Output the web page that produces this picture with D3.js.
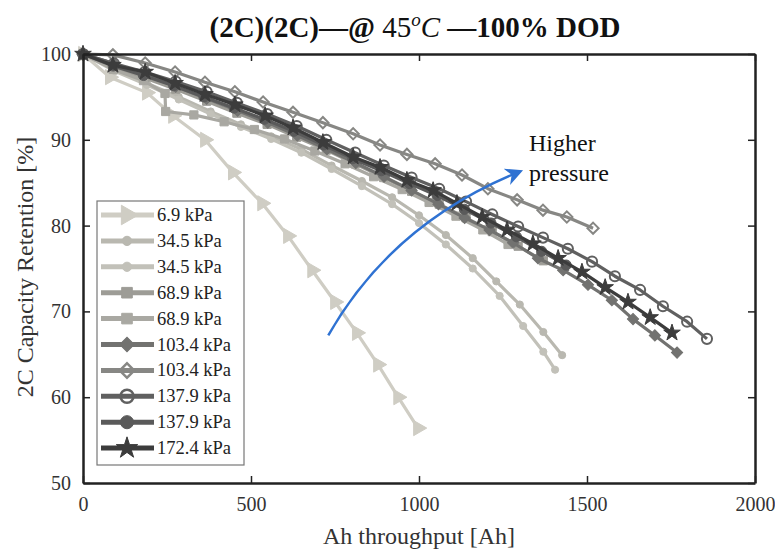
<!DOCTYPE html>
<head>
  <meta charset="utf-8">
  <script src="https://d3js.org/d3.v7.min.js"></script>
  <style>
    body { margin:0; background:#fff; }
    text { font-family: "Liberation Serif", serif; }
  </style>
</head>
<body>
<script>
var width = 775, height = 551;

// tick values
var xTicks = [0, 500, 1000, 1500, 2000];
var yTicks = [50, 60, 70, 80, 90, 100];

// [Ah throughput, retention %]
var p069 = [[0,100],[80,97.3],[190,95.5],[268,92.8],[363,90.0],[446,86.2],[533,82.6],[610,78.8],[682,74.8],[750,71.1],[815,67.5],[878,63.8],[938,60.0],[997,56.4]];
var p345a = [[0,100],[95,98.2],[190,96.6],[285,95.0],[380,93.3],[470,91.8],[560,90.4],[650,88.9],[740,87.0],[830,85.2],[920,83.3],[1000,81.2],[1080,78.9],[1160,76.2],[1230,73.5],[1300,70.8],[1370,67.6],[1426,64.9]];
var p345b = [[0,100],[95,98.0],[190,96.4],[285,94.7],[380,93.0],[470,91.5],[560,90.1],[650,88.5],[740,86.6],[830,84.6],[920,82.5],[1000,80.3],[1080,77.8],[1160,75.0],[1240,71.8],[1310,68.3],[1370,65.3],[1405,63.2]];
var p689a = [[0,100],[92,98.4],[184,97.2],[276,95.9],[368,94.5],[458,93.1],[548,91.8],[636,90.3],[724,88.8],[810,87.2],[895,85.6],[978,84.0],[1060,82.5],[1140,80.9],[1218,79.3],[1295,77.6],[1370,75.9]];
var p689b = [[0,100],[90,98.2],[180,96.9],[244,95.4],[246,93.3],[330,92.9],[420,92.1],[510,91.2],[600,90.1],[690,88.7],[780,87.2],[865,85.7],[950,84.2],[1030,82.7],[1110,81.1],[1190,79.5],[1265,77.8]];
var p1034a = [[0,100],[92,98.9],[184,97.6],[276,96.2],[368,94.8],[460,93.4],[550,92.0],[638,90.5],[726,88.9],[812,87.3],[896,85.7],[978,84.1],[1058,82.5],[1136,80.9],[1210,79.5],[1280,78.0],[1354,76.2],[1429,74.8],[1503,73.1],[1574,71.3],[1637,69.1],[1702,67.2],[1768,65.2]];
var p1034b = [[0,100],[89,99.9],[185,98.95],[274,97.9],[363,96.7],[452,95.6],[536,94.4],[625,93.2],[714,92.0],[804,90.7],[884,89.4],[964,88.3],[1048,87.2],[1128,85.9],[1205,84.3],[1292,83.0],[1369,81.8],[1440,81.0],[1518,79.7]];
var p1379a = [[0,100],[92,98.9],[184,97.9],[276,96.8],[368,95.6],[458,94.3],[548,93.0],[636,91.6],[724,90.0],[810,88.5],[895,87.0],[978,85.6],[1060,84.3],[1140,82.8],[1218,81.3],[1295,79.9],[1369,78.6],[1443,77.3],[1515,75.8],[1583,74.1],[1658,72.5],[1726,70.6],[1798,68.8],[1857,66.8]];
var p1379b = [[0,100],[90,98.6],[180,97.5],[270,96.3],[360,95.0],[450,93.7],[540,92.4],[628,91.0],[716,89.4],[803,87.8],[888,86.4],[972,84.9],[1054,83.5],[1135,81.9],[1214,80.3],[1290,78.7],[1365,77.0],[1438,75.4]];
var p1724 = [[0,100],[89,98.7],[185,97.9],[274,96.6],[363,95.3],[452,94.1],[542,92.8],[625,91.4],[714,89.7],[804,88.0],[884,86.8],[964,85.3],[1042,84.1],[1113,82.6],[1188,81.0],[1262,79.5],[1339,77.9],[1414,76.2],[1485,74.6],[1554,72.8],[1622,71.1],[1688,69.3],[1753,67.5]];

var labels = ["6.9 kPa","34.5 kPa","34.5 kPa","68.9 kPa","68.9 kPa","103.4 kPa","103.4 kPa","137.9 kPa","137.9 kPa","172.4 kPa"];

var series = [
  { d: p069,   color: "#cfcdc4", mark: "tri",     fill: true },
  { d: p345a,  color: "#b9b8b0", mark: "dot",     fill: true },
  { d: p345b,  color: "#c2c1b9", mark: "dot",     fill: true },
  { d: p689a,  color: "#9d9c96", mark: "square",  fill: true },
  { d: p689b,  color: "#a9a8a2", mark: "square",  fill: true },
  { d: p1034a, color: "#727270", mark: "diamond", fill: true },
  { d: p1034b, color: "#878784", mark: "diamond", fill: false },
  { d: p1379a, color: "#606060", mark: "circle",  fill: false },
  { d: p1379b, color: "#5a5a5a", mark: "circle",  fill: true },
  { d: p1724,  color: "#3c3c3c", mark: "star",    fill: true }
];

var svg = d3.select("body").append("svg")
  .attr("width", width)
  .attr("height", height);

var x = d3.scaleLinear().domain([0, 2000]).range([83, 755]);
var y = d3.scaleLinear().domain([50, 100]).range([483, 54]);

// marker shapes
function markPath(m, s) {
  if (m == "tri") return d3.symbol().type(d3.symbolTriangle).size(s * 1.1)();
  if (m == "dot") return d3.symbol().type(d3.symbolCircle).size(s * 0.45)();
  if (m == "square") return d3.symbol().type(d3.symbolSquare).size(s * 0.75)();
  if (m == "diamond") return d3.symbol().type(d3.symbolSquare).size(s * 0.7)();
  if (m == "circle") return d3.symbol().type(d3.symbolCircle).size(s * 0.9)();
  if (m == "star") return d3.symbol().type(d3.symbolStar).size(s * 0.95)();
}
function markRot(m) {
  if (m == "tri") return 90;
  if (m == "diamond") return 45;
  return 0;
}

var line = d3.line()
  .x(function(d){ return x(d[0]); })
  .y(function(d){ return y(d[1]); });

var plotG = svg.append("g");

series.forEach(function(s) {
  plotG.append("path")
    .datum(s.d)
    .attr("d", line)
    .attr("fill", "none")
    .attr("stroke", s.color)
    .attr("stroke-width", 3.2)
    .attr("stroke-linejoin", "round");
  plotG.selectAll(null)
    .data(s.d)
    .enter()
    .append("path")
    .attr("d", markPath(s.mark, 90))
    .attr("transform", function(d){
      return "translate(" + x(d[0]) + "," + y(d[1]) + ") rotate(" + markRot(s.mark) + ")";
    })
    .attr("fill", s.fill ? s.color : "none")
    .attr("stroke", s.color)
    .attr("stroke-width", s.fill ? 1 : 2);
});

// axes
var axG = svg.append("g").attr("class", "axes");

axG.append("g")
  .attr("transform", "translate(0,483)")
  .call(d3.axisBottom(x).tickValues(xTicks).tickFormat(d3.format("d")).tickSizeInner(-7).tickSizeOuter(0).tickPadding(14));
axG.append("g")
  .attr("transform", "translate(0,54)")
  .call(d3.axisTop(x).tickValues(xTicks).tickSizeInner(-7).tickSizeOuter(0).tickFormat(""));
axG.append("g")
  .attr("transform", "translate(83,0)")
  .call(d3.axisLeft(y).tickValues(yTicks).tickSizeInner(-7).tickSizeOuter(0).tickPadding(12));
axG.append("g")
  .attr("transform", "translate(755,0)")
  .call(d3.axisRight(y).tickValues(yTicks).tickSizeInner(-7).tickSizeOuter(0).tickFormat(""));

axG.selectAll(".domain").attr("stroke", "#222").attr("stroke-width", 2.5);
axG.selectAll(".tick line").attr("stroke", "#222").attr("stroke-width", 1.5);
axG.selectAll(".tick text")
  .attr("fill", "#333")
  .style("font-family", "Liberation Serif, serif")
  .style("font-size", "20px");

// title
var title = svg.append("text")
  .attr("x", 415).attr("y", 37)
  .attr("text-anchor", "middle")
  .attr("fill", "#111")
  .style("font-size", "29px");
title.append("tspan").attr("font-weight", "bold").text("(2C)(2C)\u2014@ ");
title.append("tspan").text("45");
title.append("tspan").attr("font-style", "italic").attr("font-size", "19px").attr("dy", -11).text("o");
title.append("tspan").attr("font-style", "italic").attr("dy", 11).text("C");
title.append("tspan").attr("font-weight", "bold").text(" \u2014100% DOD");

// axis labels
svg.append("text")
  .attr("x", 419).attr("y", 544)
  .attr("text-anchor", "middle")
  .attr("fill", "#333")
  .style("font-size", "24px")
  .text("Ah throughput [Ah]");
svg.append("text")
  .attr("transform", "translate(33,267) rotate(-90)")
  .attr("text-anchor", "middle")
  .attr("fill", "#333")
  .style("font-size", "24px")
  .text("2C Capacity Retention [%]");

// annotation arrow, in data units
var arrowFrom = [730, 67.2], arrowCtl = [920, 80.3], arrowTo = [1300, 86.3];
svg.append("defs").append("marker")
  .attr("id", "ah")
  .attr("viewBox", "0 0 10 10")
  .attr("refX", 8).attr("refY", 5)
  .attr("markerWidth", 7).attr("markerHeight", 7)
  .attr("orient", "auto")
  .append("path")
  .attr("d", "M0,0 L10,5 L0,10 L3,5 Z")
  .attr("fill", "#2f72d2");
svg.append("path")
  .attr("d", "M" + x(arrowFrom[0]) + "," + y(arrowFrom[1]) +
             " Q" + x(arrowCtl[0]) + "," + y(arrowCtl[1]) +
             " " + x(arrowTo[0]) + "," + y(arrowTo[1]))
  .attr("fill", "none")
  .attr("stroke", "#2f72d2")
  .attr("stroke-width", 2.5)
  .attr("marker-end", "url(#ah)");
svg.append("text")
  .attr("x", 529).attr("y", 151)
  .attr("fill", "#111")
  .style("font-size", "24px")
  .text("Higher");
svg.append("text")
  .attr("x", 529).attr("y", 181)
  .attr("fill", "#111")
  .style("font-size", "24px")
  .text("pressure");

// legend
var leg = svg.append("g").attr("transform", "translate(97,201)");
leg.append("rect")
  .attr("width", 147).attr("height", 264)
  .attr("fill", "#fff")
  .attr("stroke", "#777")
  .attr("stroke-width", 1.2);
series.forEach(function(s, i) {
  var ly = 14 + i * 25.9;
  leg.append("line")
    .attr("x1", 4).attr("x2", 57)
    .attr("y1", ly).attr("y2", ly)
    .attr("stroke", s.color)
    .attr("stroke-width", 5);
  leg.append("path")
    .attr("d", markPath(s.mark, 150))
    .attr("transform", "translate(30," + ly + ") rotate(" + markRot(s.mark) + ")")
    .attr("fill", s.fill ? s.color : "none")
    .attr("stroke", s.color)
    .attr("stroke-width", s.fill ? 1 : 2.5);
  leg.append("text")
    .attr("x", 60).attr("y", ly + 6)
    .attr("fill", "#222")
    .style("font-size", "18.5px")
    .text(labels[i]);
});
</script>
</body>
